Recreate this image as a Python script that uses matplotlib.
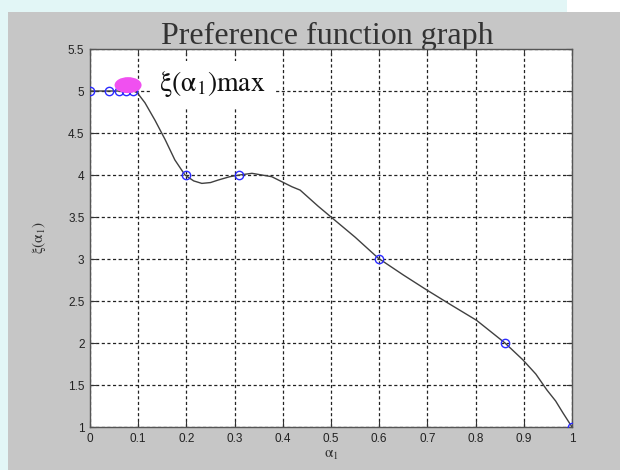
import numpy as np
import matplotlib
matplotlib.use("Agg")
from matplotlib import pyplot as plt
from matplotlib.patches import Ellipse, Rectangle

# data points (blue circles)
pts_x = [0, 0.04, 0.06, 0.075, 0.09, 0.2, 0.31, 0.6, 0.86, 1.0]
pts_y = [5, 5, 5, 5, 5, 4, 4, 3, 2, 1]

# smooth curve
curve_x = [0, 0.04, 0.09, 0.098, 0.114, 0.135, 0.156, 0.176, 0.197, 0.215, 0.232,
           0.25, 0.266, 0.29, 0.31, 0.336, 0.377, 0.419, 0.436, 0.473, 0.50, 0.55,
           0.598, 0.65, 0.699, 0.75, 0.802, 0.861, 0.898, 0.925, 0.948, 0.966, 0.981, 1.0]
curve_y = [5, 5, 5, 4.98, 4.86, 4.65, 4.42, 4.18, 4.0, 3.93, 3.90,
           3.91, 3.94, 3.98, 4.0, 4.02, 3.98, 3.86, 3.82, 3.63, 3.5, 3.26,
           3.01, 2.81, 2.63, 2.45, 2.27, 2.0, 1.80, 1.63, 1.44, 1.31, 1.17, 1.0]

max_x, max_y = 0.079, 5.07

xticks = np.arange(0, 1.01, 0.1)
xlabels = ['0', '0.1', '0.2', '0.3', '0.4', '0.5', '0.6', '0.7', '0.8', '0.9', '1']
yticks = np.arange(1, 5.51, 0.5)
ylabels = ['1', '1.5', '2', '2.5', '3', '3.5', '4', '4.5', '5', '5.5']

plt.rcParams['mathtext.fontset'] = 'stix'

fig = plt.figure(figsize=(6.2, 4.7), dpi=100)
fig.patch.set_facecolor('#e2f6f6')
# grey matlab figure area
fig.patches.append(Rectangle((8 / 620, 0), 1, 1 - 12 / 470, transform=fig.transFigure,
                             facecolor='#c6c6c6', edgecolor='none', zorder=-5))
fig.patches.append(Rectangle((567 / 620, 1 - 12 / 470), 1, 1, transform=fig.transFigure,
                             facecolor='white', edgecolor='none', zorder=-5))

ax = fig.add_axes([90 / 620, 43 / 470, 482 / 620, 378 / 470])
ax.set_facecolor('white')

ax.plot(curve_x, curve_y, color='#404040', lw=1.0, zorder=3)
ax.plot(pts_x, pts_y, 'o', mfc='none', mec='#2a2aff', ms=6, mew=1.0, zorder=4)
ax.add_patch(Ellipse((max_x, max_y), 0.056, 0.19, facecolor='#f050f0', edgecolor='none', zorder=5))

ax.text(0.143, 5.0, r'$\mathrm{\xi(\alpha_1)max}$', fontsize=20, color='#111111',
        ha='left', va='baseline', zorder=6,
        bbox=dict(facecolor='white', edgecolor='none', boxstyle='square,pad=0.3'))

ax.set_xlim(0, 1)
ax.set_ylim(1, 5.5)
ax.set_xticks(xticks)
ax.set_xticklabels(xlabels)
ax.set_yticks(yticks)
ax.set_yticklabels(ylabels)
ax.tick_params(direction='in', top=True, right=True, length=4, width=0.8,
               labelsize=8.5, colors='#333333', labelcolor='#222222', pad=4)
for lab in ax.get_xticklabels() + ax.get_yticklabels():
    lab.set_family('Liberation Sans')
ax.grid(True, color='#222222', linestyle=(0, (2.5, 2)), lw=0.9)
ax.set_axisbelow(True)
for s in ax.spines.values():
    s.set_color('#555555')
    s.set_linewidth(1.0)

ax.set_xlabel(r'$\mathrm{\alpha_1}$', fontsize=11, color='#333333', labelpad=2)
ax.set_ylabel(r'$\mathrm{\xi(\alpha_1)}$', fontsize=11, color='#333333', labelpad=14)

# title behind the axes so the descenders get cut off like the original
fig.text(327 / 620, 1 - 44 / 470, 'Preference function graph', family='Liberation Serif',
         fontsize=23, color='#333333', ha='center', va='baseline', zorder=-1)

plt.savefig('out.png', dpi=100, facecolor=fig.get_facecolor())
